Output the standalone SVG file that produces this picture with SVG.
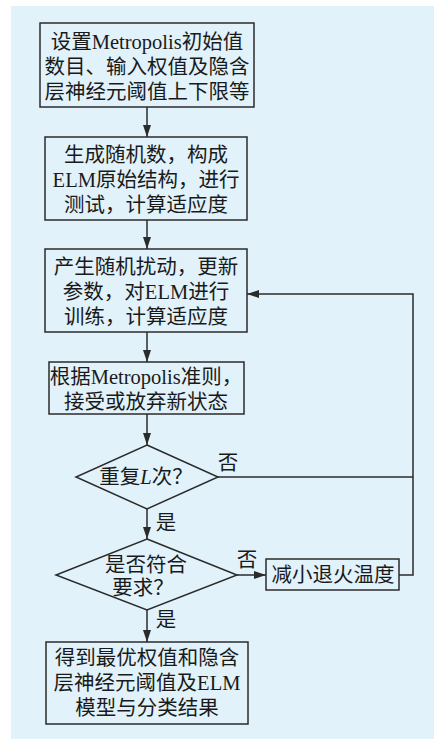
<svg xmlns="http://www.w3.org/2000/svg" width="434" height="739" viewBox="0 0 434 739">
<style>
.box{fill:none;stroke:#2b2b2b;stroke-width:1.5}
.ln{fill:none;stroke:#2b2b2b;stroke-width:1.5}
.t{font-family:"Liberation Serif","Noto Sans CJK SC",serif;font-size:20.5px;fill:#1a1a1a;text-anchor:middle}
</style>
<defs>
<marker id="ah" viewBox="0 0 12 8" refX="12" refY="4" markerWidth="12" markerHeight="8" markerUnits="userSpaceOnUse" orient="auto">
<path d="M0,0 L12,4 L0,8 Z" fill="#2b2b2b"/>
</marker>
</defs>
<rect x="11" y="6" width="423" height="733" fill="#e1f2fa"/>
<g id="n1">
<rect class="box" x="40" y="23" width="214" height="84"/>
<text class="t" x="147" y="49">设置Metropolis初始值</text>
<text class="t" x="147" y="74">数目、输入权值及隐含</text>
<text class="t" x="147" y="99">层神经元阈值上下限等</text>
</g>
<g id="n2">
<rect class="box" x="45" y="137" width="202" height="83"/>
<text class="t" x="146" y="162">生成随机数，构成</text>
<text class="t" x="146" y="187">ELM原始结构，进行</text>
<text class="t" x="146" y="212">测试，计算适应度</text>
</g>
<g id="n3">
<rect class="box" x="45" y="249" width="202" height="83"/>
<text class="t" x="146" y="274">产生随机扰动，更新</text>
<text class="t" x="146" y="299">参数，对ELM进行</text>
<text class="t" x="146" y="324">训练，计算适应度</text>
</g>
<g id="n4">
<rect class="box" x="49" y="362" width="195" height="52"/>
<text class="t" x="146" y="384">根据Metropolis准则，</text>
<text class="t" x="146" y="409">接受或放弃新状态</text>
</g>
<g id="d1">
<polygon class="box" points="147,445 218,477 147,509 76,477"/>
<text class="t" x="146" y="484">重复<tspan font-style="italic">L</tspan>次？</text>
</g>
<g id="d2">
<polygon class="box" points="147,539 237,575 147,610 56,575"/>
<text class="t" x="146" y="572">是否符合</text>
<text class="t" x="143" y="595">要求？</text>
</g>
<g id="n5">
<rect class="box" x="266" y="559" width="133" height="31"/>
<text class="t" x="333" y="582">减小退火温度</text>
</g>
<g id="n6">
<rect class="box" x="46" y="642" width="202" height="82"/>
<text class="t" x="147" y="665">得到最优权值和隐含</text>
<text class="t" x="147" y="690">层神经元阈值及ELM</text>
<text class="t" x="147" y="715">模型与分类结果</text>
</g>
<g id="connectors">
<line class="ln" x1="147" y1="107" x2="147" y2="137" marker-end="url(#ah)"/>
<line class="ln" x1="147" y1="220" x2="147" y2="249" marker-end="url(#ah)"/>
<line class="ln" x1="147" y1="332" x2="147" y2="362" marker-end="url(#ah)"/>
<line class="ln" x1="147" y1="414" x2="147" y2="445" marker-end="url(#ah)"/>
<line class="ln" x1="147" y1="509" x2="147" y2="539" marker-end="url(#ah)"/>
<line class="ln" x1="237" y1="575" x2="266" y2="575" marker-end="url(#ah)"/>
<line class="ln" x1="147" y1="610" x2="147" y2="642" marker-end="url(#ah)"/>
<line class="ln" x1="218" y1="477" x2="413" y2="477"/>
<polyline class="ln" points="399,575 413,575 413,294 247,294" marker-end="url(#ah)"/>
<text class="t" x="228" y="470">否</text>
<text class="t" x="166" y="530">是</text>
<text class="t" x="247" y="567">否</text>
<text class="t" x="166" y="627">是</text>
</g>
</svg>
